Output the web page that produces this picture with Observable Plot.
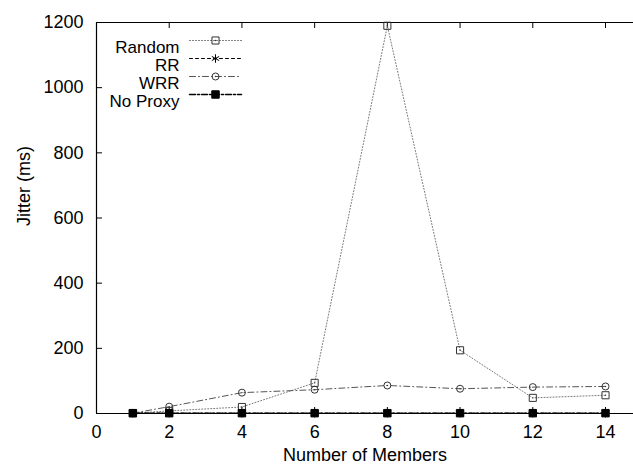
<!DOCTYPE html>
<html>
<head>
<meta charset="utf-8">
<script src="https://cdn.jsdelivr.net/npm/d3@7"></script>
<script src="https://cdn.jsdelivr.net/npm/@observablehq/plot@0.6"></script>
<style>
  html, body { margin: 0; padding: 0; background: #fff; }
</style>
</head>
<body>
<div id="chart"></div>
<script>
// ---- data ----
const members = [1, 2, 4, 6, 8, 10, 12, 14];
const randomJitter = [1, 8, 20, 94, 1190, 194, 48, 56];
const rrJitter = [1, 1, 1, 1, 1, 1, 1, 1];
const wrrJitter = [1, 21, 64, 73, 86, 76, 81, 83];
const noProxyJitter = [1, 1, 1, 1, 1, 1, 1, 1];
const seriesNames = ["Random", "RR", "WRR", "No Proxy"];
const xTicks = [0, 2, 4, 6, 8, 10, 12, 14];
const yTicks = [0, 200, 400, 600, 800, 1000, 1200];
const xLabel = "Number of Members";
const yLabel = "Jitter (ms)";

// ---- layout ----
const W = 633, H = 470, mL = 96, mR = 0, mT = 22, mB = 57;
const xMax = 14.77, yMax = 1200;
const tickPx = 6;
const tickLenY = yMax / (H - mT - mB) * tickPx;   // 6px in y data units
const tickLenX = xMax / (W - mL - mR) * tickPx;   // 6px in x data units

// ---- styles ----
const styles = {
  "Random":   {values: randomJitter,  stroke: "#777", mark: "#333", dash: "1,2",     width: 1,   symbol: "square",   r: 4,   fill: "none", center: true},
  "RR":       {values: rrJitter,      stroke: "#000", mark: "#000", dash: "3,3",     width: 1,   symbol: "asterisk", r: 4,   fill: "none", center: false},
  "WRR":      {values: wrrJitter,     stroke: "#555", mark: "#333", dash: "6,3,1,3", width: 1,   symbol: "circle",   r: 3.5, fill: "none", center: true},
  "No Proxy": {values: noProxyJitter, stroke: "#000", mark: "#000", dash: "6,2,2,2", width: 1.5, symbol: "square",   r: 4.2, fill: "#000", center: false}
};

const rows = seriesNames.map(name => members.map((m, i) => ({series: name, members: m, jitter: styles[name].values[i]})));

const marks = [];
// border (left, bottom, top; right edge lies beyond the canvas)
marks.push(Plot.ruleX([0], {stroke: "#000", strokeWidth: 1.2}));
marks.push(Plot.ruleY([0, yMax], {stroke: "#000", strokeWidth: 1.2}));
// inward ticks
marks.push(Plot.ruleX(xTicks, {x: d => d, y1: 0, y2: tickLenY, stroke: "#000"}));
marks.push(Plot.ruleX(xTicks, {x: d => d, y1: yMax, y2: yMax - tickLenY, stroke: "#000"}));
marks.push(Plot.ruleY(yTicks, {y: d => d, x1: 0, x2: tickLenX, stroke: "#000"}));
// tick labels
marks.push(Plot.axisX({anchor: "bottom", ticks: xTicks, tickSize: 0, tickPadding: 12, label: null, fill: "#000", tickFormat: d => String(d)}));
marks.push(Plot.axisY({anchor: "left", ticks: yTicks, tickSize: 0, tickPadding: 13, label: null, fill: "#000", tickFormat: d => String(d)}));
// axis titles
marks.push(Plot.text([xLabel], {frameAnchor: "bottom", dy: 47, fill: "#000"}));
marks.push(Plot.text([yLabel], {frameAnchor: "left", rotate: -90, dx: -72, dy: 8, fill: "#000"}));

// series
seriesNames.forEach((name, k) => {
  const s = styles[name];
  const data = rows[k];
  marks.push(Plot.line(data, {x: "members", y: "jitter", stroke: s.stroke, strokeWidth: s.width, strokeDasharray: s.dash}));
  marks.push(Plot.dot(data, {x: "members", y: "jitter", symbol: s.symbol, r: s.r, stroke: s.mark, fill: s.fill, strokeWidth: 1}));
  if (s.center) marks.push(Plot.dot(data, {x: "members", y: "jitter", r: 0.7, fill: "#333", stroke: null}));
});

// legend (inside the frame, top-left)
const lineShape = {draw(context, l) { context.moveTo(0, 0); context.lineTo(0, -l); }};
seriesNames.forEach((name, k) => {
  const s = styles[name];
  const dy = 18 + k * 18;
  marks.push(Plot.text([name], {frameAnchor: "top-left", textAnchor: "end", dx: 83, dy, fill: "#000", fontSize: 17}));
  marks.push(Plot.vector([name], {frameAnchor: "top-left", dx: 93, dy, length: 52, rotate: 90, anchor: "start", shape: lineShape,
    stroke: s.stroke, strokeWidth: s.width, strokeDasharray: s.dash}));
  marks.push(Plot.dot([name], {frameAnchor: "top-left", dx: 119, dy, symbol: s.symbol, r: s.r, stroke: s.mark, fill: s.fill, strokeWidth: 1}));
  if (s.center) marks.push(Plot.dot([name], {frameAnchor: "top-left", dx: 119, dy, r: 0.7, fill: "#333", stroke: null}));
});

const chart = Plot.plot({
  width: W,
  height: H,
  marginLeft: mL,
  marginRight: mR,
  marginTop: mT,
  marginBottom: mB,
  style: {fontFamily: "'Liberation Sans', Arial, sans-serif", fontSize: "18px", background: "#fff", color: "#000"},
  x: {domain: [0, xMax]},
  y: {domain: [0, yMax]},
  marks
});
document.getElementById("chart").appendChild(chart);
</script>
</body>
</html>
